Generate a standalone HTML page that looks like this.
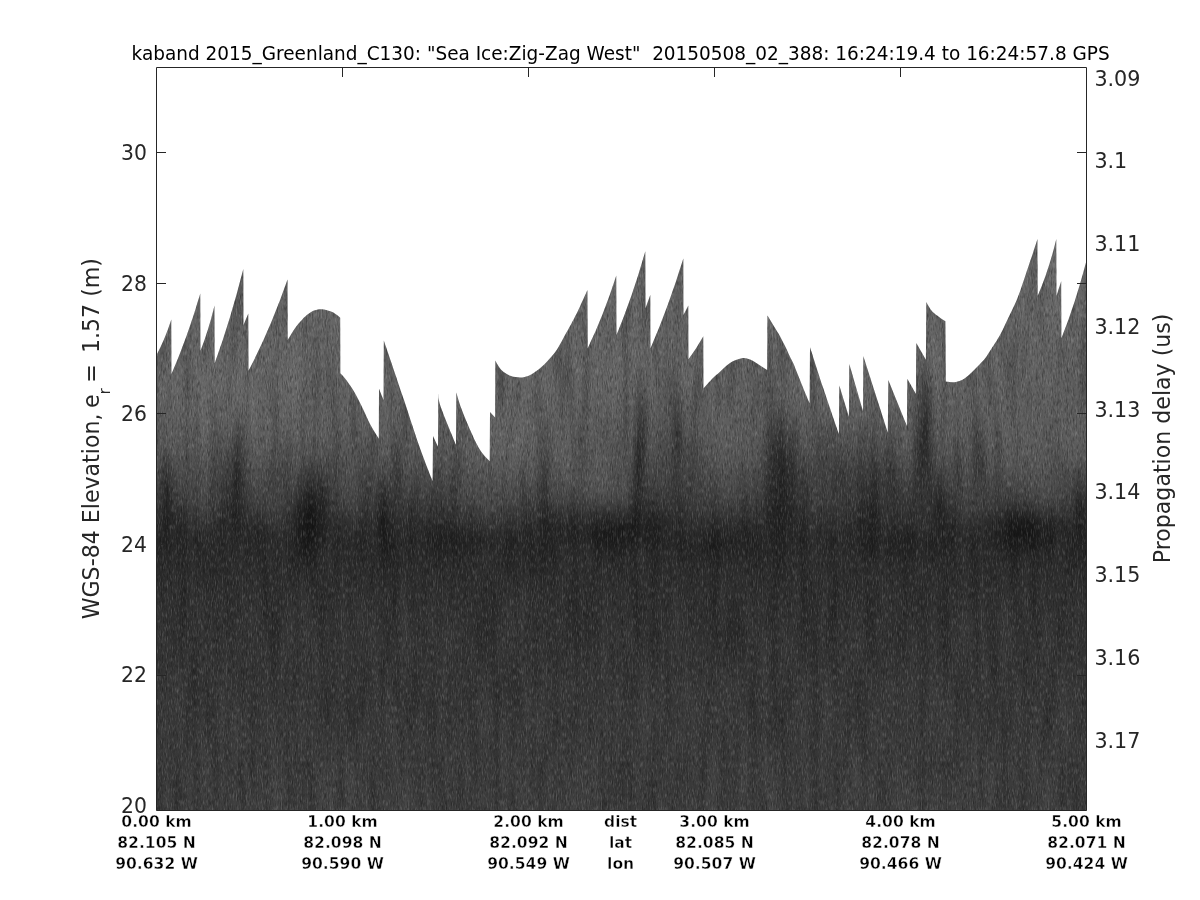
<!DOCTYPE html>
<html lang="en"><head><meta charset="utf-8"><title>kaband echogram</title>
<style>
html,body{margin:0;padding:0;background:#fff;}
body{width:1200px;height:900px;overflow:hidden;}
svg{display:block;}
text{font-family:"DejaVu Sans","Liberation Sans",sans-serif;}
.t{font-size:19.6px;fill:#000;}
.yl{font-size:22px;fill:#262626;}
.xl{font-size:16.4px;font-weight:bold;fill:#000;stroke:#fff;stroke-width:0.45px;paint-order:fill stroke;}
.al{font-size:22.4px;fill:#262626;}
</style></head><body>
<svg width="1200" height="900" viewBox="0 0 1200 900">
<defs>
<linearGradient id="g" x1="0" y1="0" x2="0" y2="1" gradientUnits="objectBoundingBox">
<stop offset="0.0000" stop-color="#676767"/>
<stop offset="0.1205" stop-color="#656565"/>
<stop offset="0.2582" stop-color="#626262"/>
<stop offset="0.3270" stop-color="#5e5e5e"/>
<stop offset="0.3701" stop-color="#585858"/>
<stop offset="0.4045" stop-color="#505050"/>
<stop offset="0.4355" stop-color="#464646"/>
<stop offset="0.4613" stop-color="#3d3d3d"/>
<stop offset="0.4854" stop-color="#343434"/>
<stop offset="0.5095" stop-color="#2d2d2d"/>
<stop offset="0.5370" stop-color="#2a2a2a"/>
<stop offset="0.5938" stop-color="#2e2e2e"/>
<stop offset="0.6885" stop-color="#333333"/>
<stop offset="0.8090" stop-color="#383838"/>
<stop offset="0.9122" stop-color="#3c3c3c"/>
<stop offset="1.0000" stop-color="#404040"/>
</linearGradient>
<radialGradient id="bk"><stop offset="0" stop-color="#000" stop-opacity="1"/><stop offset="0.5" stop-color="#000" stop-opacity="0.5"/><stop offset="1" stop-color="#000" stop-opacity="0"/></radialGradient>
<radialGradient id="wh"><stop offset="0" stop-color="#fff" stop-opacity="1"/><stop offset="0.5" stop-color="#fff" stop-opacity="0.5"/><stop offset="1" stop-color="#fff" stop-opacity="0"/></radialGradient>
<clipPath id="c"><path d="M156.5 355.0Q164.9 339.7 171.3 319.6L171.5 374.0Q187.4 337.4 200.3 293.5L200.5 350.8Q208.5 330.5 214.5 305.5L214.7 363.3Q230.5 319.8 243.3 269.1L243.5 325.0Q245.9 319.2 248.3 313.5L248.5 370.8Q270.0 330.0 287.5 279.6L287.7 340.0C288.9 338.1 292.9 331.3 295.0 328.3C297.1 325.3 298.3 323.9 300.0 322.0C301.7 320.1 302.8 318.6 305.0 316.7C307.2 314.8 310.5 312.1 313.3 310.8C316.1 309.6 318.6 309.1 321.7 309.2C324.8 309.3 329.1 310.7 331.7 311.7C334.2 312.7 335.6 314.0 337.0 315.0C338.4 316.0 339.7 317.3 340.2 317.8L340.4 373.3C341.5 374.6 344.6 377.7 347.0 381.0C349.4 384.3 352.3 388.6 355.0 393.3C357.7 398.0 360.5 403.9 363.0 409.0C365.5 414.1 367.4 419.1 370.0 424.0C372.6 428.9 377.3 436.2 378.8 438.7L379.0 388.8L383.5 400.0L383.8 340.5C387.2 350.4 398.0 382.0 404.0 400.0C410.0 418.0 415.2 434.8 420.0 448.3C424.8 461.9 430.5 475.8 432.6 481.3L433.0 436.1L438.0 446.7L438.3 393.5C438.7 395.7 437.8 398.2 440.7 406.7C443.6 415.2 453.4 438.4 456.0 444.7L456.3 392.5C457.0 394.9 458.8 401.3 460.7 406.7C462.6 412.1 465.3 418.8 468.0 425.0C470.7 431.2 474.2 439.2 476.7 444.0C479.2 448.8 480.8 451.1 483.0 454.0C485.2 456.9 488.6 460.1 489.7 461.3L490.0 412.1L495.1 417.4L495.3 360.6C495.9 361.7 497.7 365.1 499.0 367.0C500.3 368.9 501.3 370.2 503.3 371.7C505.3 373.2 508.2 375.0 511.0 376.0C513.8 377.0 517.5 377.4 520.0 377.5C522.5 377.6 524.0 377.1 526.0 376.5C528.0 375.9 529.4 375.6 531.7 374.2C534.0 372.8 537.3 370.6 540.0 368.3C542.7 366.0 545.2 363.6 548.0 360.5C550.8 357.4 554.2 353.7 556.7 350.0C559.2 346.3 560.5 343.3 563.3 338.3C566.1 333.3 570.5 325.3 573.3 320.0C576.1 314.7 577.6 311.5 580.0 306.5C582.4 301.5 586.2 292.8 587.5 290.1L587.7 348.3Q603.5 315.5 616.3 275.5L616.5 335.0Q632.4 296.8 645.3 251.3L645.5 308.3Q647.9 301.7 650.3 295.1L650.5 348.3Q668.4 307.0 683.3 258.5L683.5 315.0Q685.9 310.2 688.3 305.5L688.5 359.2Q696.4 348.9 703.3 336.3L703.5 388.5C704.9 386.9 709.2 381.8 712.0 379.0C714.8 376.2 717.0 374.4 720.0 371.7C723.0 369.0 726.4 365.2 730.0 363.0C733.6 360.8 738.4 358.9 741.7 358.3C745.0 357.7 747.5 358.7 750.0 359.5C752.5 360.3 753.8 361.6 756.7 363.3C759.6 365.1 765.5 368.9 767.2 370.0L767.4 315.5C768.2 316.8 770.2 320.0 772.0 323.0C773.8 326.0 776.3 329.8 778.3 333.3C780.3 336.8 782.0 340.1 784.0 344.0C786.0 347.9 788.5 353.5 790.0 356.7C791.5 359.9 792.0 360.2 793.3 363.3C794.6 366.4 796.3 370.8 798.0 375.0C799.7 379.2 801.4 383.6 803.3 388.3C805.2 393.0 808.5 400.8 809.6 403.3L810.0 347.2C812.2 354.1 818.5 373.8 823.3 388.3C828.1 402.8 836.3 426.4 838.9 434.0L839.3 385.5L848.9 416.7L849.3 364.1L863.0 411.3L863.3 356.1L887.8 432.7L888.3 380.1L906.9 426.0L907.3 378.8L915.9 394.0L916.3 343.1L925.9 359.7L926.3 302.1C926.9 303.2 928.8 306.8 930.0 308.5C931.2 310.2 931.8 311.1 933.3 312.5C934.8 313.9 937.0 315.5 939.0 317.0C941.0 318.5 944.3 320.6 945.4 321.3L945.8 381.5C946.7 381.6 949.3 382.1 951.0 382.2C952.7 382.3 954.0 382.5 956.0 382.0C958.0 381.5 961.0 380.5 963.3 379.2C965.6 377.9 967.2 376.5 970.0 374.0C972.8 371.5 977.5 366.6 980.0 364.0C982.5 361.4 983.3 360.7 985.0 358.5C986.7 356.3 987.5 354.9 990.0 351.0C992.5 347.1 997.0 340.4 1000.0 335.0C1003.0 329.6 1005.2 324.3 1008.0 318.5C1010.8 312.7 1014.3 305.8 1016.7 300.0C1019.1 294.2 1020.6 289.6 1022.5 284.0C1024.4 278.4 1026.5 271.9 1028.3 266.7C1030.0 261.5 1031.5 257.6 1033.0 253.0C1034.5 248.4 1036.8 241.4 1037.5 239.1L1037.7 295.8Q1048.5 271.1 1056.3 239.1L1056.5 295.8Q1058.8 288.6 1061.2 281.3L1061.4 338.3Q1075.5 303.0 1086.5 260.5L1086.5 810.5L156.5 810.5Z"/></clipPath>
<filter id="n" x="0" y="0" width="100%" height="100%" color-interpolation-filters="sRGB">
<feTurbulence type="fractalNoise" baseFrequency="0.8 0.16" numOctaves="2" seed="7" result="t"/>
<feColorMatrix in="t" type="matrix" values="0 0 0 0 0  0 0 0 0 0  0 0 0 0 0  0.8 0 0 0 -0.37" result="a"/>
</filter>
<filter id="n2" x="0" y="0" width="100%" height="100%" color-interpolation-filters="sRGB">
<feTurbulence type="fractalNoise" baseFrequency="0.8 0.16" numOctaves="2" seed="23" result="t"/>
<feColorMatrix in="t" type="matrix" values="0 0 0 0 1  0 0 0 0 1  0 0 0 0 1  0 0.42 0 0 -0.21" result="a"/>
</filter>
<filter id="n3" x="0" y="0" width="100%" height="100%" color-interpolation-filters="sRGB">
<feTurbulence type="fractalNoise" baseFrequency="0.1 0.012" numOctaves="2" seed="41" result="t"/>
<feColorMatrix in="t" type="matrix" values="0 0 0 0 0  0 0 0 0 0  0 0 0 0 0  0.5 0 0 0 -0.22" result="a"/>
</filter>
<filter id="n4" x="0" y="0" width="100%" height="100%" color-interpolation-filters="sRGB">
<feTurbulence type="fractalNoise" baseFrequency="0.1 0.012" numOctaves="2" seed="41" result="t"/>
<feColorMatrix in="t" type="matrix" values="0 0 0 0 1  0 0 0 0 1  0 0 0 0 1  -0.12 0 0 0 0.05" result="a"/>
</filter>
</defs>
<rect x="0" y="0" width="1200" height="900" fill="#fff"/>
<g clip-path="url(#c)">
<rect x="156" y="230" width="931" height="581" fill="url(#g)"/>
<ellipse cx="236" cy="480" rx="11" ry="82" fill="url(#bk)" opacity="0.42"/>
<ellipse cx="311" cy="515" rx="22" ry="60" fill="url(#bk)" opacity="0.57"/>
<ellipse cx="383" cy="525" rx="10" ry="68" fill="url(#bk)" opacity="0.33"/>
<ellipse cx="396" cy="465" rx="8" ry="52" fill="url(#bk)" opacity="0.22"/>
<ellipse cx="543" cy="467" rx="10" ry="75" fill="url(#bk)" opacity="0.33"/>
<ellipse cx="639" cy="450" rx="8" ry="105" fill="url(#bk)" opacity="0.38"/>
<ellipse cx="677" cy="440" rx="10" ry="90" fill="url(#bk)" opacity="0.30"/>
<ellipse cx="773" cy="460" rx="14" ry="90" fill="url(#bk)" opacity="0.42"/>
<ellipse cx="613" cy="528" rx="72" ry="33" fill="url(#bk)" opacity="0.38"/>
<ellipse cx="925" cy="435" rx="14" ry="90" fill="url(#bk)" opacity="0.49"/>
<ellipse cx="941" cy="500" rx="8" ry="45" fill="url(#bk)" opacity="0.38"/>
<ellipse cx="978" cy="447" rx="11" ry="52" fill="url(#bk)" opacity="0.18"/>
<ellipse cx="1023" cy="530" rx="45" ry="30" fill="url(#bk)" opacity="0.45"/>
<ellipse cx="784" cy="500" rx="16" ry="105" fill="url(#bk)" opacity="0.27"/>
<ellipse cx="870" cy="525" rx="14" ry="52" fill="url(#bk)" opacity="0.27"/>
<ellipse cx="510" cy="460" rx="72" ry="75" fill="url(#wh)" opacity="0.08"/>
<ellipse cx="590" cy="480" rx="56" ry="60" fill="url(#wh)" opacity="0.08"/>
<ellipse cx="1040" cy="470" rx="72" ry="68" fill="url(#wh)" opacity="0.03"/>
<ellipse cx="240" cy="410" rx="96" ry="75" fill="url(#wh)" opacity="0.04"/>
<ellipse cx="855" cy="475" rx="96" ry="60" fill="url(#bk)" opacity="0.20"/>
<ellipse cx="784" cy="470" rx="22" ry="75" fill="url(#bk)" opacity="0.18"/>
<ellipse cx="660" cy="450" rx="56" ry="75" fill="url(#bk)" opacity="0.12"/>
<ellipse cx="200" cy="504" rx="26" ry="33" fill="url(#wh)" opacity="0.06"/>
<ellipse cx="270" cy="504" rx="26" ry="33" fill="url(#wh)" opacity="0.06"/>
<ellipse cx="350" cy="502" rx="22" ry="32" fill="url(#wh)" opacity="0.05"/>
<ellipse cx="485" cy="506" rx="48" ry="33" fill="url(#wh)" opacity="0.06"/>
<ellipse cx="608" cy="502" rx="29" ry="32" fill="url(#wh)" opacity="0.06"/>
<ellipse cx="725" cy="501" rx="42" ry="32" fill="url(#wh)" opacity="0.05"/>
<ellipse cx="830" cy="502" rx="35" ry="32" fill="url(#wh)" opacity="0.05"/>
<ellipse cx="975" cy="504" rx="26" ry="33" fill="url(#wh)" opacity="0.05"/>
<ellipse cx="1045" cy="496" rx="35" ry="30" fill="url(#wh)" opacity="0.05"/>
<ellipse cx="168" cy="490" rx="10" ry="52" fill="url(#bk)" opacity="0.30"/>
<ellipse cx="1081" cy="505" rx="11" ry="52" fill="url(#bk)" opacity="0.33"/>
<ellipse cx="455" cy="540" rx="48" ry="21" fill="url(#bk)" opacity="0.18"/>
<ellipse cx="720" cy="545" rx="64" ry="21" fill="url(#bk)" opacity="0.15"/>
<ellipse cx="900" cy="545" rx="64" ry="21" fill="url(#bk)" opacity="0.15"/>
<rect x="156" y="230" width="931" height="581" filter="url(#n3)"/>
<rect x="156" y="230" width="931" height="581" filter="url(#n4)"/>
<rect x="156" y="230" width="931" height="581" filter="url(#n)"/>
<rect x="156" y="230" width="931" height="581" filter="url(#n2)"/>
</g>
<path d="M156.5 67.5H1086.5V810.5H156.5Z" fill="none" stroke="#262626" stroke-width="1"/>
<path d="M156.5 152.5h9.5M1086.5 152.5h-9.5M156.5 283.5h9.5M1086.5 283.5h-9.5M156.5 413.5h9.5M1086.5 413.5h-9.5M156.5 544.5h9.5M1086.5 544.5h-9.5M156.5 675.5h9.5M1086.5 675.5h-9.5M342.5 67.5v9.5M528.5 67.5v9.5M714.5 67.5v9.5M900.5 67.5v9.5" fill="none" stroke="#262626" stroke-width="1"/>
<text class="t" transform="translate(620.60,59.60) scale(0.9424,1)" text-anchor="middle" xml:space="preserve" style="white-space:pre">kaband 2015_Greenland_C130: "Sea Ice:Zig-Zag West"  20150508_02_388: 16:24:19.4 to 16:24:57.8 GPS</text>
<text class="yl" transform="translate(147.00,159.90) scale(0.925,1)" text-anchor="end">30</text>
<text class="yl" transform="translate(147.00,290.50) scale(0.925,1)" text-anchor="end">28</text>
<text class="yl" transform="translate(147.00,421.10) scale(0.925,1)" text-anchor="end">26</text>
<text class="yl" transform="translate(147.00,551.70) scale(0.925,1)" text-anchor="end">24</text>
<text class="yl" transform="translate(147.00,682.30) scale(0.925,1)" text-anchor="end">22</text>
<text class="yl" transform="translate(147.00,812.90) scale(0.925,1)" text-anchor="end">20</text>
<text class="yl" transform="translate(1094.40,85.70) scale(0.94,1)" text-anchor="start">3.09</text>
<text class="yl" transform="translate(1094.40,168.45) scale(0.94,1)" text-anchor="start">3.1</text>
<text class="yl" transform="translate(1094.40,251.20) scale(0.94,1)" text-anchor="start">3.11</text>
<text class="yl" transform="translate(1094.40,333.95) scale(0.94,1)" text-anchor="start">3.12</text>
<text class="yl" transform="translate(1094.40,416.70) scale(0.94,1)" text-anchor="start">3.13</text>
<text class="yl" transform="translate(1094.40,499.45) scale(0.94,1)" text-anchor="start">3.14</text>
<text class="yl" transform="translate(1094.40,582.20) scale(0.94,1)" text-anchor="start">3.15</text>
<text class="yl" transform="translate(1094.40,664.95) scale(0.94,1)" text-anchor="start">3.16</text>
<text class="yl" transform="translate(1094.40,747.70) scale(0.94,1)" text-anchor="start">3.17</text>
<text class="xl" transform="translate(156.50,826.75) scale(0.95,1)" text-anchor="middle">0.00 km</text>
<text class="xl" transform="translate(156.50,847.80) scale(0.95,1)" text-anchor="middle">82.105 N</text>
<text class="xl" transform="translate(156.50,868.80) scale(0.95,1)" text-anchor="middle">90.632 W</text>
<text class="xl" transform="translate(342.50,826.75) scale(0.95,1)" text-anchor="middle">1.00 km</text>
<text class="xl" transform="translate(342.50,847.80) scale(0.95,1)" text-anchor="middle">82.098 N</text>
<text class="xl" transform="translate(342.50,868.80) scale(0.95,1)" text-anchor="middle">90.590 W</text>
<text class="xl" transform="translate(528.50,826.75) scale(0.95,1)" text-anchor="middle">2.00 km</text>
<text class="xl" transform="translate(528.50,847.80) scale(0.95,1)" text-anchor="middle">82.092 N</text>
<text class="xl" transform="translate(528.50,868.80) scale(0.95,1)" text-anchor="middle">90.549 W</text>
<text class="xl" transform="translate(714.50,826.75) scale(0.95,1)" text-anchor="middle">3.00 km</text>
<text class="xl" transform="translate(714.50,847.80) scale(0.95,1)" text-anchor="middle">82.085 N</text>
<text class="xl" transform="translate(714.50,868.80) scale(0.95,1)" text-anchor="middle">90.507 W</text>
<text class="xl" transform="translate(900.50,826.75) scale(0.95,1)" text-anchor="middle">4.00 km</text>
<text class="xl" transform="translate(900.50,847.80) scale(0.95,1)" text-anchor="middle">82.078 N</text>
<text class="xl" transform="translate(900.50,868.80) scale(0.95,1)" text-anchor="middle">90.466 W</text>
<text class="xl" transform="translate(1086.50,826.75) scale(0.95,1)" text-anchor="middle">5.00 km</text>
<text class="xl" transform="translate(1086.50,847.80) scale(0.95,1)" text-anchor="middle">82.071 N</text>
<text class="xl" transform="translate(1086.50,868.80) scale(0.95,1)" text-anchor="middle">90.424 W</text>
<text class="xl" transform="translate(620.60,826.75) scale(0.95,1)" text-anchor="middle">dist</text>
<text class="xl" transform="translate(620.60,847.80) scale(0.95,1)" text-anchor="middle">lat</text>
<text class="xl" transform="translate(620.60,868.80) scale(0.95,1)" text-anchor="middle">lon</text>
<text class="al" transform="translate(98.9,438.7) rotate(-90) scale(0.987,1)" text-anchor="middle">WGS-84 Elevation,<tspan dx="-1.5"> e</tspan><tspan font-size="15.5" dy="10.7">r</tspan><tspan dy="-10.7" dx="-1.8"> = </tspan><tspan dx="4.3">1.57 (m)</tspan></text>
<text class="al" transform="translate(1169.8,438.4) rotate(-90) scale(0.987,1)" text-anchor="middle">Propagation delay (us)</text>
</svg>
</body></html>
